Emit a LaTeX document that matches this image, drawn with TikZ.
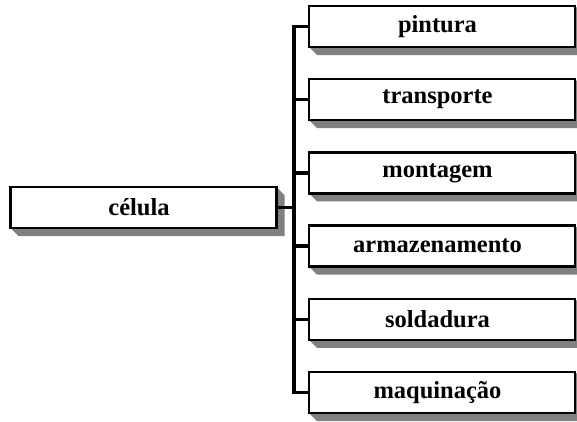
\documentclass[tikz,border=0pt]{standalone}
\usepackage{fontspec}
\setmainfont{Liberation Serif}
\usetikzlibrary{backgrounds}
\definecolor{shadowgray}{RGB}{128,128,128}
\newcommand{\lbl}[1]{#1\hspace*{9pt}}
\begin{document}
\begin{tikzpicture}[x=1pt,y=-1pt,
  box/.style={draw, line width=2.5pt, fill=white, minimum width=266pt, minimum height=41pt,
    inner sep=0pt, outer sep=0pt, font=\fontsize{24.5}{27}\selectfont\bfseries},
  conn/.style={line width=3.5pt, line join=miter},
  boxshadow/.style={fill=shadowgray}]
\useasboundingbox (0,0) rectangle (577,421);
\node[box] (cel) at (143.5,207.5) {\lbl{célula}};
\foreach \t [count=\i from 0] in {pintura,transporte,montagem,armazenamento,soldadura,maquinação} {
  \node[box] (b\i) at (442,26.5+73.2*\i) {\lbl{\t}};
}
\coordinate (tx) at (294,0);
\begin{pgfonlayer}{background}
\foreach \n in {cel,b0,b1,b2,b3,b4,b5} {
  \fill[boxshadow] (\n.south west) -- ++(8,8) -- ([shift={(8,8)}]\n.south east)
    -- ([shift={(8,8)}]\n.north east) -- (\n.north east) -- cycle;
}
\end{pgfonlayer}
\draw[conn] (b0.west) -- (b0.west -| tx) -- (b5.west -| tx) -- (b5.west);
\foreach \i in {1,2,3,4} { \draw[conn] (b\i.west) -- (b\i.west -| tx); }
\draw[conn] (cel.east) -- (cel.east -| tx);
\end{tikzpicture}
\end{document}
